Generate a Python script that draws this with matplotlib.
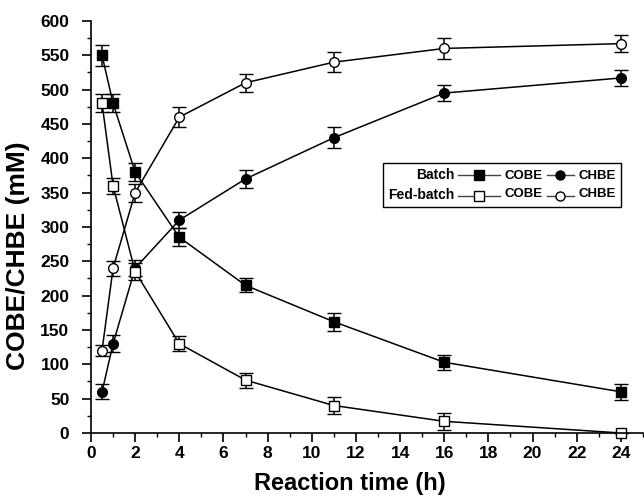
import matplotlib.pyplot as plt
from matplotlib.lines import Line2D
from matplotlib.ticker import MultipleLocator
from matplotlib.offsetbox import (AnchoredOffsetbox, DrawingArea, HPacker,
                                  TextArea, VPacker)

plt.rcParams["font.family"] = ["Liberation Sans", "DejaVu Sans"]
plt.rcParams["font.weight"] = "bold"

# czas reakcji (h)
time_h = [0.5, 1, 2, 4, 7, 11, 16, 24]

# Batch
batch_cobe = [550, 480, 380, 285, 215, 162, 103, 60]
batch_cobe_err = [15, 13, 13, 13, 10, 13, 11, 12]
batch_chbe = [60, 130, 240, 310, 370, 430, 495, 517]
batch_chbe_err = [11, 12, 12, 12, 13, 15, 12, 12]

# Fed-batch
fed_cobe = [480, 360, 235, 130, 77, 40, 17, 0]
fed_cobe_err = [13, 12, 12, 11, 11, 12, 12, 0]
fed_chbe = [120, 240, 350, 460, 510, 540, 560, 567]
fed_chbe_err = [8, 11, 13, 15, 13, 15, 15, 12]

row_labels = ["Batch", "Fed-batch"]
series_labels = ["COBE", "CHBE"]


def legend_handle(marker, face, width):
    """Mały symbol legendy: linia z markerem na środku."""
    da = DrawingArea(width, 10, 0, 0)
    da.add_artist(Line2D([0, width], [5, 5], color="#444444", lw=1.0))
    da.add_artist(Line2D([width / 2], [5], marker=marker, ms=6.5,
                         mfc=face, mec="black", mew=1.0, linestyle="none"))
    return da


def main():
    fig = plt.figure(figsize=(6.44, 4.97), dpi=100)
    ax = fig.add_axes([0.1413, 0.1288, 0.857, 0.829])

    style = dict(color="black", linewidth=1.1, markersize=7, capsize=5,
                 elinewidth=1.1, capthick=1.1, markeredgewidth=1.0, clip_on=False)

    ax.errorbar(time_h, batch_cobe, yerr=batch_cobe_err, marker="s", markerfacecolor="black", **style)
    ax.errorbar(time_h, batch_chbe, yerr=batch_chbe_err, marker="o", markerfacecolor="black", **style)
    ax.errorbar(time_h, fed_cobe, yerr=fed_cobe_err, marker="s", markerfacecolor="white", **style)
    ax.errorbar(time_h, fed_chbe, yerr=fed_chbe_err, marker="o", markerfacecolor="white", **style)

    ax.set_xlim(0, 25)
    ax.set_ylim(0, 600)
    ax.xaxis.set_major_locator(MultipleLocator(2))
    ax.xaxis.set_minor_locator(MultipleLocator(1))
    ax.yaxis.set_major_locator(MultipleLocator(50))
    ax.yaxis.set_minor_locator(MultipleLocator(25))
    ax.set_xticks(range(0, 25, 2))

    for s in ["top", "right"]:
        ax.spines[s].set_visible(False)
    for s in ["left", "bottom"]:
        ax.spines[s].set_linewidth(1.2)

    ax.tick_params(which="major", direction="out", length=6.5, width=1.2, labelsize=12.5)
    ax.tick_params(which="minor", direction="out", length=3, width=1.0)
    ax.tick_params(axis="y", which="major", pad=9)
    ax.tick_params(axis="x", which="major", pad=3)
    for lab in ax.get_xticklabels() + ax.get_yticklabels():
        lab.set_fontweight("bold")

    ax.set_xlabel("Reaction time (h)", fontsize=17, fontweight="bold")
    ax.set_ylabel("COBE/CHBE (mM)", fontsize=19, fontweight="bold")
    ax.xaxis.set_label_coords(0.469, -0.095)
    ax.yaxis.set_label_coords(-0.11, 0.43)

    """ Legenda: kolumny Batch/Fed-batch, COBE, CHBE """
    name_col = VPacker(children=[TextArea(t, textprops=dict(size=10, weight="bold"))
                                 for t in row_labels], align="right", pad=0, sep=4)
    cobe_h = VPacker(children=[legend_handle("s", "black", 30), legend_handle("s", "white", 30)],
                     align="center", pad=0, sep=5)
    cobe_t = VPacker(children=[TextArea(series_labels[0], textprops=dict(size=9.5, weight="bold"))
                               for _ in row_labels], align="left", pad=0, sep=4)
    chbe_h = VPacker(children=[legend_handle("o", "black", 20), legend_handle("o", "white", 20)],
                     align="center", pad=0, sep=5)
    chbe_t = VPacker(children=[TextArea(series_labels[1], textprops=dict(size=9.5, weight="bold"))
                               for _ in row_labels], align="left", pad=0, sep=4)
    box = HPacker(children=[name_col, cobe_h, cobe_t, chbe_h, chbe_t],
                  align="center", pad=0, sep=3)
    anchored = AnchoredOffsetbox(loc="upper left", child=box, pad=0.35, borderpad=0,
                                 frameon=True, bbox_to_anchor=(0.595, 0.672),
                                 bbox_transform=fig.transFigure)
    anchored.patch.set_edgecolor("black")
    anchored.patch.set_linewidth(1.0)
    anchored.patch.set_boxstyle("square", pad=0)
    ax.add_artist(anchored)

    fig.savefig("out.png", dpi=100)


if __name__ == "__main__":
    main()
